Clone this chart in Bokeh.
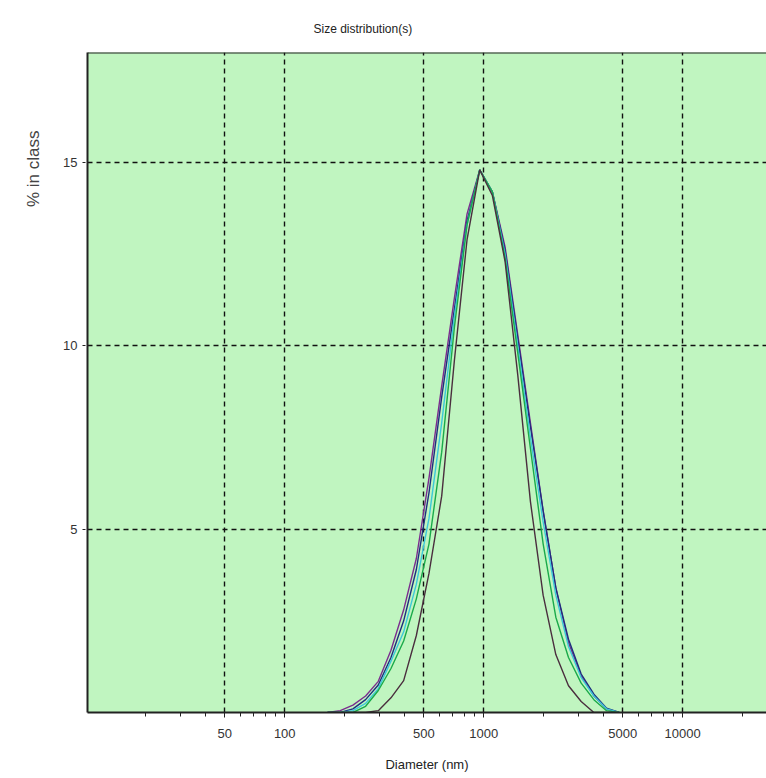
from bokeh.plotting import figure
from bokeh.models import Range1d, FixedTicker, Span, Title
from bokeh.embed import file_html
from bokeh.resources import INLINE

# Size classes (nm)
sizes = [164.2, 190.1, 220.2, 255.0, 295.3, 342.0, 396.1, 458.7, 531.2, 615.1,
         712.4, 825.0, 955.4, 1106, 1281, 1484, 1718, 1990, 2305, 2669,
         3091, 3580, 4145, 4801]

# % in class for each record
purple = [0, 0.05, 0.2, 0.45, 0.85, 1.7, 2.8, 4.2, 6.4, 8.9, 11.3, 13.6, 14.8,
          14.2, 12.7, 10.3, 7.9, 5.5, 3.4, 1.9, 1.0, 0.45, 0.1, 0]
blue = [0, 0, 0.1, 0.35, 0.75, 1.5, 2.5, 3.9, 6.0, 8.6, 11.0, 13.4, 14.8,
        14.2, 12.6, 10.2, 7.8, 5.5, 3.4, 2.0, 1.05, 0.5, 0.12, 0]
cyan = [0, 0, 0.05, 0.25, 0.65, 1.4, 2.2, 3.5, 5.3, 7.9, 10.8, 13.3, 14.8,
        14.2, 12.5, 10.0, 7.5, 5.2, 3.2, 1.8, 0.95, 0.45, 0.1, 0]
green = [0, 0, 0, 0.17, 0.6, 1.2, 1.95, 3.1, 4.6, 7.1, 10.5, 13.3, 14.8,
         14.2, 12.4, 9.8, 7.2, 4.6, 2.6, 1.5, 0.8, 0.35, 0.05, 0]
narrow = [0, 0, 0, 0, 0.05, 0.4, 0.87, 2.1, 3.8, 5.9, 9.6, 12.9, 14.8,
          14.1, 12.3, 9.2, 5.75, 3.2, 1.58, 0.73, 0.3, 0, 0, 0]

series = [
    (purple, "#7B2D8E"),
    (blue, "#1E2E7E"),
    (cyan, "#3CC8D8"),
    (green, "#1AAA4A"),
    (narrow, "#4A2E3E"),
]

x_major = [50, 100, 500, 1000, 5000, 10000]
x_minor = [20, 30, 40, 60, 70, 80, 90, 200, 300, 400, 600, 700, 800, 900,
           2000, 3000, 4000, 6000, 7000, 8000, 9000, 20000]
y_major = [5, 10, 15]
y_top = 18

FONT = "Liberation Sans"

p = figure(width=766, height=778, x_axis_type="log",
           x_range=Range1d(10.2, 26400), y_range=Range1d(0, y_top),
           output_backend="svg", toolbar_location=None,
           min_border_left=87, min_border_right=0, min_border_top=52,
           min_border_bottom=66)
p.background_fill_color = "#C0F5C0"
p.border_fill_color = "white"
p.outline_line_color = None

for ys, col in series:
    p.line(sizes, ys, line_color=col, line_width=1.4)

# axes
xa = p.xaxis[0]
xa.ticker = FixedTicker(ticks=x_major, minor_ticks=x_minor)
xa.major_label_overrides = {v: str(v) for v in x_major}
xa.axis_line_color = "#222222"
xa.axis_line_width = 2
xa.major_tick_out = 5
xa.major_tick_in = 0
xa.minor_tick_out = 4
xa.minor_tick_in = 0
xa.major_tick_line_color = "#222222"
xa.minor_tick_line_color = "#222222"
xa.major_label_text_font = FONT
xa.major_label_text_font_size = "13px"
xa.major_label_text_color = "#333333"
xa.major_label_standoff = 11
xa.axis_label = "Diameter (nm)"
xa.axis_label_text_font = FONT
xa.axis_label_text_font_size = "13px"
xa.axis_label_text_font_style = "normal"
xa.axis_label_text_color = "#222222"
xa.axis_label_standoff = 16

ya = p.yaxis[0]
ya.ticker = FixedTicker(ticks=y_major, minor_ticks=[])
ya.axis_line_color = "#222222"
ya.axis_line_width = 2
ya.major_tick_out = 5
ya.major_tick_in = 0
ya.major_tick_line_color = "#222222"
ya.major_tick_line_dash = "3 2"
ya.minor_tick_line_color = None
ya.major_label_text_font = FONT
ya.major_label_text_font_size = "13px"
ya.major_label_text_color = "#333333"
ya.major_label_standoff = 5

for g in (p.xgrid[0], p.ygrid[0]):
    g.grid_line_color = "#111111"
    g.grid_line_dash = "5 4"
    g.grid_line_width = 1.4
p.xgrid[0].ticker = FixedTicker(ticks=x_major)
p.ygrid[0].ticker = FixedTicker(ticks=y_major)

# top frame line
p.add_layout(Span(location=y_top, dimension="width", line_color="#222222",
                  line_width=2))

p.title.text = "Size distribution(s)"
p.title.text_font = FONT
p.title.text_font_size = "12px"
p.title.text_font_style = "normal"
p.title.text_color = "#222222"
p.title.align = "left"
p.title.offset = 226
p.title.standoff = 33

# y-axis label placed high on the left, as in the reference
ylab = Title(text="% in class", align="right", offset=78, standoff=36,
             text_font=FONT, text_font_size="17px", text_font_style="normal",
             text_color="#444444")
p.add_layout(ylab, "left")

open("out.html", "w").write(file_html(p, INLINE))
